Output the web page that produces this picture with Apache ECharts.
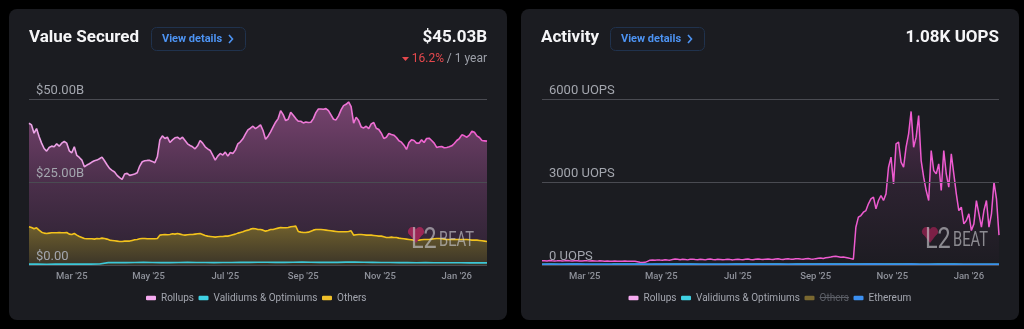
<!DOCTYPE html>
<html><head><meta charset="utf-8">
<script src="https://cdn.jsdelivr.net/npm/echarts@6/dist/echarts.min.js"></script>
<style>html,body{margin:0;padding:0;background:#000;}#c{width:1024px;height:329px;}</style>
</head><body><div id="c"></div>
<script>
// ---------- DATA ----------
const startDate = '2025-01-26';
const endDate = '2026-01-25';
const tickDates = ['2025-03-01', '2025-05-01', '2025-07-01', '2025-09-01', '2025-11-01', '2026-01-01'];
const tickLabels = ["Mar '25", "May '25", "Jul '25", "Sep '25", "Nov '25", "Jan '26"];

// Value Secured (billions USD), one value every 2 days
const tvsRollups = [
 42.7,42.2,39.7,41.1,38.7,36.7,35.1,34.3,35.4,35.8,
 35.6,36.5,35.8,36.7,37.2,36.7,34.4,33.8,35.6,33.0,
 32.4,31.6,29.6,30.1,30.5,31.0,31.4,31.6,32.0,32.5,
 31.4,30.2,29.1,28.5,28.0,27.0,26.3,25.8,27.4,27.6,
 27.0,27.2,27.4,27.8,29.8,31.1,31.4,31.5,31.5,31.2,
 30.8,32.6,37.7,38.9,38.1,38.5,36.9,37.7,38.3,38.5,
 37.9,38.5,37.5,36.5,36.0,35.6,35.0,35.9,37.5,36.7,
 35.6,35.0,34.5,33.1,31.6,32.8,33.6,33.1,34.0,32.8,
 33.9,33.6,34.6,36.5,37.1,38.0,39.4,40.7,41.2,41.8,
 41.1,41.6,42.2,40.5,37.9,38.8,40.1,41.6,43.0,44.1,
 46.5,45.3,43.5,43.9,46.0,45.1,44.1,43.3,43.3,42.8,
 43.1,42.9,43.0,44.1,45.9,47.0,47.0,46.9,47.1,46.5,
 45.2,43.9,43.7,44.9,46.7,48.0,48.4,49.1,47.7,42.7,
 44.5,43.5,41.6,41.3,41.8,41.1,42.5,42.9,41.2,40.8,
 39.7,38.1,38.5,39.6,39.3,39.1,38.4,37.4,37.0,36.1,
 34.8,36.9,37.7,37.5,36.7,36.7,37.7,36.9,38.1,38.2,
 37.5,36.7,35.4,35.6,35.7,35.3,35.4,35.6,35.9,36.6,
 37.5,38.1,39.2,38.9,38.5,39.1,40.3,40.0,38.9,38.4,
 37.5,37.4,37.3
];
const tvsOthers = [
 11.5,11.3,10.9,11.2,10.5,9.9,9.6,9.5,9.6,9.7,
 9.7,9.7,9.8,9.7,9.7,9.8,9.3,9.2,9.5,9.0,
 8.6,8.3,8.0,7.9,7.9,7.9,7.8,8.0,7.9,8.1,
 8.0,7.8,7.5,7.4,7.3,7.2,7.1,7.1,7.2,7.2,
 7.2,7.4,7.6,7.7,7.9,8.0,8.0,7.9,7.9,7.9,
 7.9,8.0,9.0,9.1,9.2,9.1,9.2,9.4,9.3,9.5,
 9.3,9.1,9.0,9.1,9.2,9.2,9.3,9.4,9.5,9.2,
 8.9,8.7,8.6,8.5,8.4,8.5,8.6,8.6,8.7,8.7,
 8.9,9.1,9.3,9.6,9.8,10.0,10.3,10.5,10.8,11.0,
 10.9,10.7,10.7,10.5,10.2,10.4,10.7,10.7,10.9,11.1,
 11.3,11.2,11.2,11.3,11.5,11.6,11.7,10.1,9.9,9.8,
 9.8,9.9,10.2,10.5,10.7,10.7,10.7,10.6,10.5,10.4,
 10.3,10.2,10.1,10.0,10.0,10.0,10.0,10.1,10.3,9.0,
 9.1,9.2,9.2,9.1,9.0,9.0,9.0,8.9,8.8,8.7,
 8.7,8.5,8.3,8.3,8.4,8.3,8.3,8.1,8.0,7.9,
 7.8,7.7,7.6,7.5,7.5,7.5,7.6,7.7,7.7,7.7,
 7.8,7.9,8.0,8.0,7.9,7.8,7.7,7.7,7.7,7.7,
 7.7,7.7,7.7,7.7,7.7,7.6,7.5,7.5,7.5,7.4,
 7.3,7.2,7.1
];
// weekly
const tvsValidiums = [
 0.25,0.25,0.24,0.26,0.25,0.25,0.26,0.27,0.28,
 0.72,0.74,0.73,0.75,0.80,0.74,0.72,0.73,0.74,0.78,
 0.76,0.74,0.73,0.75,0.76,0.78,0.80,0.84,0.82,0.80,
 0.78,0.82,0.86,0.84,0.80,0.78,0.80,0.86,0.92,0.84,
 0.80,0.76,0.74,0.72,0.74,0.70,0.72,0.70,0.68,0.70,
 0.66,0.64,0.66,0.65
];

// Activity (UOPS), one value every 2 days
const actRollups = [
 150,155,148,160,152,145,150,158,147,152,160,
 150,145,155,150,142,148,156,150,145,152,
 148,140,150,145,138,146,140,135,142,138,
 140,136,144,138,132,140,135,120,100,92,
 95,130,175,180,170,
 185,178,172,190,182,176,200,
 215,205,190,210,198,185,205,212,
 195,188,210,200,185,205,215,198,190,208,
 200,188,195,210,195,185,200,212,198,190,
 205,215,200,192,210,218,205,196,212,220,
 208,198,215,225,210,200,218,228,212,205,
 222,230,215,208,225,235,220,212,230,245,
 250,238,260,275,290,310,320,300,
 280,290,270,250,230,210,
 1366,1728,1788,1908,1969,2210,2390,2450,2029,2330,
 2511,2330,2571,3535,3897,2933,4379,4439,3716,3535,
 4258,4740,5550,4258,4620,5403,3776,3174,2692,2330,
 4138,3415,3294,3656,2692,4138,3294,2812,4017,3294,
 2571,1969,2089,1486,1607,1848,1245,1486,2330,1848,
 1366,1969,2330,1366,1848,2993,2390,1080
];
// weekly
const actValidiums = [
 28,30,29,31,30,28,27,29,30,32, 31,30,29,28,30,31,32,30,29,28,
 27,29,30,31,32,33,31,30,29,30, 31,32,34,33,31,30,32,34,35,33,
 32,31,30,29,28,30,31,30,29,28, 27,28,29
];
const actEthereum = [
 21,22,20,21,23,22,20,19,21,22, 20,21,22,23,21,20,19,20,22,21,
 20,19,18,20,21,22,21,20,19,20, 21,22,23,22,21,20,22,24,23,22,
 21,22,23,22,20,21,22,21,20,19, 20,21,20
];
const actOthers = []; // switched off in the reference, nothing drawn

const tvsLegend = ['Rollups', 'Validiums & Optimiums', 'Others'];
const actLegend = ['Rollups', 'Validiums & Optimiums', 'Others', 'Ethereum'];

// ---------- HELPERS ----------
const DAY = 86400000;
const ts = s => { const [y, m, d] = s.split('-').map(Number); return Date.UTC(y, m - 1, d); };
const t0 = ts(startDate), t1 = ts(endDate);
const series = (step, vals) => vals.map((v, i) => [t0 + i * step * DAY, v]);
const tickTs = tickDates.map(ts);
const tickFmt = v => { const k = tickTs.indexOf(v); return k >= 0 ? tickLabels[k] : ''; };

const FONT = 'Roboto, "Noto Sans", sans-serif';
const SUF = ' activity';
const LEG_FS = 10;
const LEG_ICON_W = 10, LEG_GAP = 4.5, LEG_TOP = 293;
const TVS_LEG_LEFT = 146, ACT_LEG_LEFT = 628.5;

function xAxis(g) {
  return {
    type: 'value', gridIndex: g, min: t0, max: t1, scale: true,
    axisLine: { show: false }, axisTick: { show: false }, splitLine: { show: false },
    axisLabel: { customValues: tickTs, formatter: tickFmt, color: '#8e919a', fontSize: 9.5,
      fontWeight: 500, fontFamily: FONT, margin: 7, hideOverlap: false }
  };
}
function yAxis(g, max, interval, fmt) {
  return {
    type: 'value', gridIndex: g, min: 0, max: max, interval: interval, z: 5,
    axisLine: { show: false }, axisTick: { show: false },
    splitLine: { lineStyle: { color: '#4a4b52', width: 1 } },
    axisLabel: { inside: true, align: 'left', verticalAlign: 'bottom', lineHeight: 16, margin: 7,
      color: '#a3a6ae', fontSize: 13, fontFamily: FONT, formatter: fmt }
  };
}
const lg = (x0, y0, x1, y1, stops) => new echarts.graphic.LinearGradient(x0, y0, x1, y1,
  stops.map((c, i) => ({ offset: i / (stops.length - 1), color: c })));

function watermark(dx, heart) {
  const fill = 'rgba(205,205,210,0.62)';
  return [
    { type: 'circle', z: 50, silent: true, shape: { cx: 412.3 + dx, cy: 231.5, r: 4.4 }, style: { fill: heart } },
    { type: 'circle', z: 50, silent: true, shape: { cx: 419.7 + dx, cy: 231.5, r: 4.4 }, style: { fill: heart } },
    { type: 'polygon', z: 50, silent: true, shape: { points: [[408.2 + dx, 232.8], [423.8 + dx, 232.8], [416 + dx, 243]] }, style: { fill: heart } },
    { type: 'text', x: 411 + dx, y: 240.5, z: 51, silent: true, scaleX: 0.78,
      style: { text: 'L2', font: '30px ' + FONT, fill: fill, verticalAlign: 'middle', textVerticalAlign: 'middle' } },
    { type: 'text', x: 439 + dx, y: 241, z: 51, silent: true, scaleX: 0.7,
      style: { text: 'BEAT', font: '21px ' + FONT, fill: fill, verticalAlign: 'middle', textVerticalAlign: 'middle' } }
  ];
}
function txt(x, y, text, font, fill, align) {
  return { type: 'text', x: x, y: y, z: 50, silent: true,
    style: { text: text, font: font, fill: fill, align: align || 'left', textAlign: align || 'left',
      verticalAlign: 'middle', textVerticalAlign: 'middle' } };
}
function button(x) {
  return [
    { type: 'rect', z: 49, silent: true, shape: { x: x + 0.5, y: 27.5, width: 94, height: 23, r: 5 },
      style: { fill: '#1a1c23', stroke: '#20324d', lineWidth: 1 } },
    txt(x + 11, 39, 'View details', 'bold 11px ' + FONT, '#4d93f2'),
    { type: 'polyline', z: 50, silent: true, shape: { points: [[x + 78, 35], [x + 81.5, 39], [x + 78, 43]] },
      style: { stroke: '#4d93f2', lineWidth: 1.6, fill: null } }
  ];
}

// strike-through for the switched-off legend entry (measured like the legend lays it out)
const mctx = document.createElement('canvas').getContext('2d');
mctx.font = LEG_FS + 'px ' + FONT;
let lx = ACT_LEG_LEFT, strike = null;
actLegend.forEach(n => {
  const w = mctx.measureText(n).width;
  if (n === 'Others') strike = [lx + LEG_ICON_W + 5, lx + LEG_ICON_W + 5 + w];
  lx += LEG_ICON_W + 5 + w + LEG_GAP;
});

const legendCommon = { top: LEG_TOP, padding: 0, itemGap: LEG_GAP, itemWidth: LEG_ICON_W, itemHeight: 4.5,
  icon: 'roundRect', textStyle: { color: '#a3a6af', fontSize: LEG_FS, fontFamily: FONT } };
const legColors = { 'Rollups': '#f5aaf0', 'Validiums & Optimiums': '#3fd1e3', 'Others': '#f0c02a', 'Ethereum': '#3b8ff0' };

const option = {
  backgroundColor: '#000',
  animation: false,
  textStyle: { fontFamily: FONT },
  grid: [
    { left: 29, right: 537, top: 99, bottom: 64 },
    { left: 542, right: 25, top: 99, bottom: 64 }
  ],
  xAxis: [xAxis(0), xAxis(1)],
  yAxis: [
    yAxis(0, 50, 25, v => v === 0 ? '$0.00' : '$' + v.toFixed(2) + 'B'),
    yAxis(1, 6000, 3000, v => v + ' UOPS')
  ],
  legend: [
    Object.assign({ left: TVS_LEG_LEFT,
      data: tvsLegend.map(n => ({ name: n, itemStyle: { color: legColors[n] } })) }, legendCommon),
    Object.assign({ left: ACT_LEG_LEFT,
      formatter: n => n.replace(SUF, ''),
      data: actLegend.map(n => n === 'Others'
        ? { name: n + SUF, itemStyle: { color: '#7a6830' }, textStyle: { color: '#5c5f67' } }
        : { name: n + SUF, itemStyle: { color: legColors[n] } }) }, legendCommon)
  ],
  series: [
    { name: 'Rollups', type: 'line', xAxisIndex: 0, yAxisIndex: 0, showSymbol: false, z: 2,
      data: series(2, tvsRollups), itemStyle: { color: '#f5aaf0' },
      lineStyle: { width: 1.6, color: lg(0, 0, 1, 0, ['#eba6e7', '#ef5bcc']) },
      areaStyle: { opacity: 1, color: lg(0, 0, 0, 1, ['#77436f', '#4a2f4a', '#2a2130']) } },
    { name: 'Others', type: 'line', xAxisIndex: 0, yAxisIndex: 0, showSymbol: false, z: 3,
      data: series(2, tvsOthers), itemStyle: { color: '#f0c02a' },
      lineStyle: { width: 1.6, color: '#f2c21c' },
      areaStyle: { opacity: 1, color: lg(0, 0, 0, 1, ['#6f5f2d', '#3b3528']) } },
    { name: 'Validiums & Optimiums', type: 'line', xAxisIndex: 0, yAxisIndex: 0, showSymbol: false, z: 4,
      data: series(7, tvsValidiums), itemStyle: { color: '#3fd1e3' },
      lineStyle: { width: 1.6, color: '#3cc7d8' } },

    { name: 'Rollups' + SUF, type: 'line', xAxisIndex: 1, yAxisIndex: 1, showSymbol: false, z: 2,
      data: series(2, actRollups), itemStyle: { color: '#f5aaf0' },
      lineStyle: { width: 1.5, color: '#ee5bd0' },
      areaStyle: { opacity: 1, color: lg(0, 0, 0, 1, ['#4d2b4a', '#2c2230', '#1d1c22']) } },
    { name: 'Others' + SUF, type: 'line', xAxisIndex: 1, yAxisIndex: 1, showSymbol: false,
      data: series(2, actOthers), itemStyle: { color: '#7a6830' } },
    { name: 'Validiums & Optimiums' + SUF, type: 'line', xAxisIndex: 1, yAxisIndex: 1, showSymbol: false, z: 3,
      data: series(7, actValidiums), itemStyle: { color: '#3fd1e3' },
      lineStyle: { width: 1.6, color: '#3cc7d8' } },
    { name: 'Ethereum' + SUF, type: 'line', xAxisIndex: 1, yAxisIndex: 1, showSymbol: false, z: 4,
      data: series(7, actEthereum), itemStyle: { color: '#3b8ff0' },
      lineStyle: { width: 2, color: '#3b8ff0' } }
  ],
  graphic: [].concat(
    [
      { type: 'rect', z: -10, silent: true, shape: { x: 9, y: 9, width: 498, height: 311, r: 8 }, style: { fill: '#1b1c21' } },
      { type: 'rect', z: -10, silent: true, shape: { x: 521, y: 9, width: 498, height: 311, r: 8 }, style: { fill: '#1b1c21' } },
      txt(29, 38, 'Value Secured', 'bold 17px ' + FONT, '#f5f5f7'),
      txt(487, 38, '$45.03B', 'bold 17px ' + FONT, '#f5f5f7', 'right'),
      txt(487, 59, '/ 1 year', '12px ' + FONT, '#9da0a9', 'right'),
      txt(444, 59, '16.2%', '12px ' + FONT, '#e5484d', 'right'),
      { type: 'polygon', z: 50, silent: true, shape: { points: [[402, 57], [409, 57], [405.5, 61]] }, style: { fill: '#e5484d' } },
      txt(541, 38, 'Activity', 'bold 17px ' + FONT, '#f5f5f7'),
      txt(999, 38, '1.08K UOPS', 'bold 17px ' + FONT, '#f5f5f7', 'right'),
      { type: 'line', z: 60, silent: true, shape: { x1: strike[0], y1: 297.5, x2: strike[1], y2: 297.5 }, style: { stroke: '#5c5f67', lineWidth: 1 } }
    ],
    button(151), button(610),
    watermark(0, '#9b2755'), watermark(514, '#7c2046')
  )
};
const chart = echarts.init(document.getElementById('c'), null, { renderer: 'canvas' });
chart.setOption(option);
</script></body></html>
